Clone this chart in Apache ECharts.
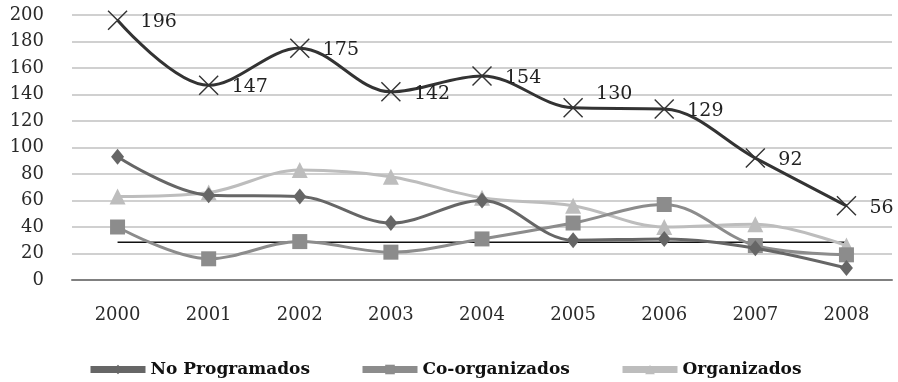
<!DOCTYPE html>
<html>
<head>
<meta charset="utf-8">
<script src="https://cdn.jsdelivr.net/npm/echarts@6/dist/echarts.min.js"></script>
<style>
  html, body { margin: 0; padding: 0; background: #fff; }
  #chart { width: 898px; height: 382px; }
</style>
</head>
<body>
<div id="chart"></div>
<script>
// datos
var years = ["2000", "2001", "2002", "2003", "2004", "2005", "2006", "2007", "2008"];
var total = [196, 147, 175, 142, 154, 130, 129, 92, 56];
var noProgramados = [93, 64, 63, 43, 60, 30, 31, 24, 9];
var coOrganizados = [40, 16, 29, 21, 31, 43, 57, 26, 19];
var organizados = [63, 66, 83, 78, 62, 56, 40, 42, 26];
var promedio = [28.5, 28.5, 28.5, 28.5, 28.5, 28.5, 28.5, 28.5, 28.5];

var font = "DejaVu Serif";
var crossPath = "path://M0,1 L1,0 L20,19 L19,20 Z M19,0 L20,1 L1,20 L0,19 Z";

// la etiqueta de 2005 va un poco mas arriba en el original
var totalData = total.map(function (v, i) {
  return i === 5 ? { value: v, label: { offset: [0, -14] } } : v;
});

// una leyenda por serie para fijar la posicion de cada una
function leyenda(nombre, left) {
  return {
    data: [nombre],
    top: 356,
    left: left,
    itemWidth: 55,
    itemHeight: 12,
    textStyle: { fontFamily: font, fontSize: 17, fontWeight: "bold", color: "#111" },
    lineStyle: { width: 7 }
  };
}

var chart = echarts.init(document.getElementById("chart"));
var option = {
  animation: false,
  backgroundColor: "#fff",
  textStyle: { fontFamily: font },
  grid: { left: 72, right: 6, top: 15, bottom: 102 },
  legend: [
    leyenda("No Programados", 82),
    leyenda("Co-organizados", 354),
    leyenda("Organizados", 614)
  ],
  xAxis: {
    type: "category",
    data: years,
    axisTick: { show: false },
    axisLine: { lineStyle: { color: "#808080", width: 2 } },
    axisLabel: { fontFamily: font, fontSize: 18, color: "#2a2a2a", margin: 26 }
  },
  yAxis: {
    type: "value",
    min: 0,
    max: 200,
    interval: 20,
    axisLabel: { fontFamily: font, fontSize: 18, color: "#2a2a2a", margin: 28 },
    splitLine: { lineStyle: { color: "#c0c0c0", width: 1.5 } }
  },
  series: [
    {
      name: "Promedio",
      type: "line",
      data: promedio,
      symbol: "none",
      lineStyle: { color: "#111", width: 1.5 },
      z: 1
    },
    {
      name: "Organizados",
      type: "line",
      data: organizados,
      smooth: 0.35,
      symbol: "triangle",
      symbolSize: 16,
      itemStyle: { color: "#bdbdbd" },
      lineStyle: { color: "#bdbdbd", width: 3 },
      z: 2
    },
    {
      name: "Co-organizados",
      type: "line",
      data: coOrganizados,
      smooth: 0.35,
      symbol: "rect",
      symbolSize: 15,
      itemStyle: { color: "#8c8c8c" },
      lineStyle: { color: "#8c8c8c", width: 3 },
      z: 3
    },
    {
      name: "No Programados",
      type: "line",
      data: noProgramados,
      smooth: 0.35,
      symbol: "diamond",
      symbolSize: [13, 16],
      itemStyle: { color: "#666666" },
      lineStyle: { color: "#666666", width: 3 },
      z: 4
    },
    {
      name: "Total",
      type: "line",
      data: totalData,
      smooth: 0.35,
      symbol: crossPath,
      symbolSize: 20,
      itemStyle: { color: "#333333" },
      lineStyle: { color: "#333333", width: 3 },
      label: {
        show: true,
        position: "right",
        distance: 13,
        offset: [0, 2],
        fontFamily: font,
        fontSize: 19,
        color: "#222"
      },
      z: 5
    }
  ]
};
chart.setOption(option);
</script>
</body>
</html>
